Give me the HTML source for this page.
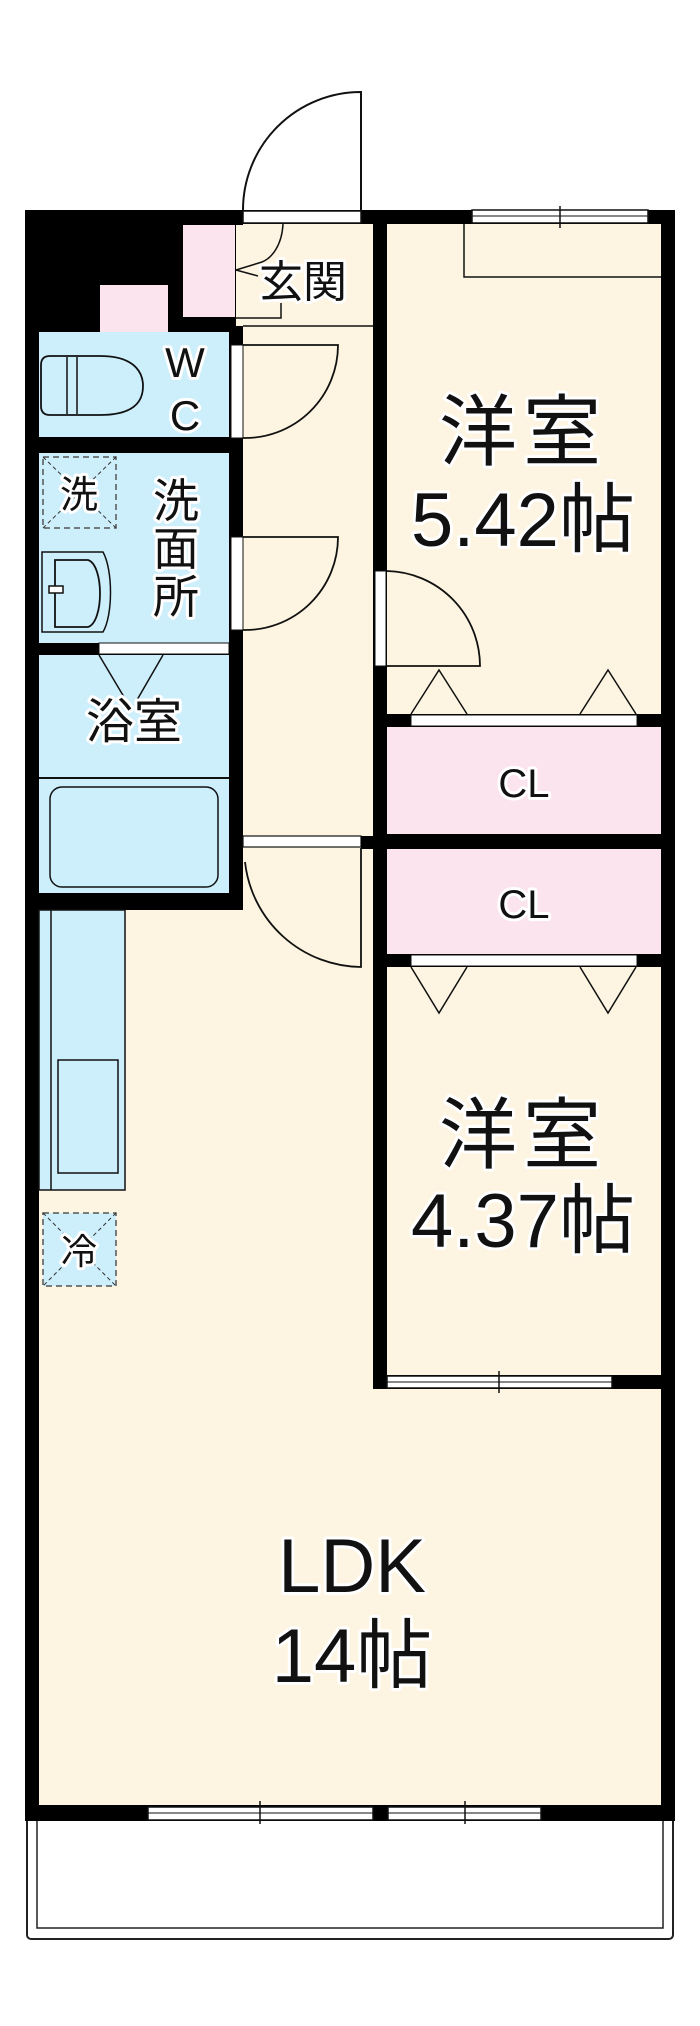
<!DOCTYPE html>
<html><head><meta charset="utf-8"><style>
html,body{margin:0;padding:0;background:#fff;}
svg{display:block;}
text{font-family:"Liberation Sans","Noto Sans CJK JP",sans-serif;fill:#111;paint-order:stroke;stroke:#fff;stroke-width:6px;stroke-linejoin:round;}
</style></head><body>
<svg width="700" height="2026" viewBox="0 0 700 2026" xmlns="http://www.w3.org/2000/svg">
<rect width="700" height="2026" fill="#fff"/>
<!-- balcony -->
<rect x="27" y="1815" width="646" height="124" rx="4" fill="#fff" stroke="#222" stroke-width="2"/>
<rect x="37" y="1815" width="626" height="113" fill="#fff" stroke="#222" stroke-width="1.5"/>
<!-- entrance door outside -->
<path d="M243,210 A118,118 0 0 1 361,92 L361,210" fill="#fff" stroke="#111" stroke-width="2"/>
<!-- floor fills -->
<rect x="25" y="210" width="650" height="1611" fill="#fdf5e1"/>
<!-- black top-left block -->
<rect x="25" y="210" width="218" height="122" fill="#000"/>
<rect x="100" y="285" width="68" height="47" fill="#fbe4ee"/>
<rect x="183" y="225" width="52" height="92" fill="#fbe4ee"/>
<rect x="236" y="225" width="137" height="101" fill="#fdf5e1"/>
<!-- entrance area lines -->
<path d="M283,224 C282,245 272,258 262,262 M236,270 L262,262 M236,270 L258,276 M281,303 L281,318 L236,318" fill="none" stroke="#111" stroke-width="1.5"/>
<line x1="243" y1="326" x2="373" y2="326" stroke="#111" stroke-width="1.5"/>
<!-- top wall -->
<rect x="25" y="210" width="650" height="14" fill="#000"/>
<rect x="243" y="211" width="118" height="12" fill="#fff" stroke="#111" stroke-width="1.5"/>
<!-- left outer wall -->
<rect x="25" y="210" width="14" height="1611" fill="#000"/>
<!-- right outer wall -->
<rect x="661" y="210" width="14" height="1611" fill="#000"/>
<!-- corridor/rooms wall -->
<rect x="373" y="210" width="14" height="1179" fill="#000"/>
<!-- wet area -->
<rect x="39" y="332" width="190" height="105" fill="#cdeefb"/>
<rect x="25" y="437" width="218" height="16" fill="#000"/>
<rect x="39" y="453" width="190" height="190" fill="#cdeefb"/>
<rect x="25" y="643" width="218" height="12" fill="#000"/>
<rect x="99" y="643" width="130" height="11" fill="#fff" stroke="#111" stroke-width="1"/>
<rect x="39" y="655" width="190" height="238" fill="#cdeefb"/>
<line x1="39" y1="778" x2="229" y2="778" stroke="#111" stroke-width="2"/>
<rect x="50" y="787" width="168" height="100" rx="12" fill="#cdeefb" stroke="#111" stroke-width="1.5"/>
<path d="M99,655 L127,702 M163,655 L137,700" stroke="#111" stroke-width="1.5" fill="none"/>
<rect x="25" y="893" width="218" height="17" fill="#000"/>
<rect x="229" y="332" width="14" height="578" fill="#000"/>
<!-- wc/washroom doors -->
<rect x="231" y="345" width="12" height="93" fill="#fff" stroke="#111" stroke-width="1"/>
<path d="M243,345 L338,345 A93,93 0 0 1 243,438" fill="none" stroke="#111" stroke-width="1.8"/>
<rect x="231" y="537" width="12" height="93" fill="#fff" stroke="#111" stroke-width="1"/>
<path d="M243,537 L338,537 A93,93 0 0 1 243,630" fill="none" stroke="#111" stroke-width="1.8"/>
<!-- toilet -->
<path d="M50,356 L100,356 C140,356 143,378 143,386 C143,396 140,415 100,415 L50,415 Q41,415 41,406 L41,365 Q41,356 50,356 Z" fill="#cdeefb" stroke="#111" stroke-width="1.8"/>
<line x1="67" y1="357" x2="67" y2="414" stroke="#111" stroke-width="1.5"/>
<line x1="77" y1="357" x2="77" y2="414" stroke="#111" stroke-width="1.5"/>
<!-- washbasin -->
<path d="M42,552 L103,552 C113,570 113,615 103,632 L42,632 Z" fill="#cdeefb" stroke="#111" stroke-width="1.5"/>
<path d="M55,560 L88,560 C104,565 104,622 88,627 L55,627 Z" fill="none" stroke="#111" stroke-width="1.8"/>
<rect x="49" y="586" width="14" height="7" fill="#fff" stroke="#111" stroke-width="1.5"/>
<!-- washer box -->
<rect x="43" y="457" width="73" height="71" fill="none" stroke="#555" stroke-width="1.5" stroke-dasharray="6,4"/>
<path d="M43,457 L116,528 M116,457 L43,528" stroke="#333" stroke-width="1" stroke-dasharray="4,3"/>
<!-- corridor bottom door -->
<rect x="243" y="836" width="118" height="11" fill="#fff" stroke="#111" stroke-width="1.2"/>
<rect x="361" y="836" width="14" height="13" fill="#000"/>
<path d="M245,862 A118,118 0 0 0 361,967 L361,848" fill="none" stroke="#111" stroke-width="1.8"/>
<!-- kitchen -->
<rect x="39" y="910" width="86" height="280" fill="#cdeefb" stroke="#111" stroke-width="1.5"/>
<line x1="51" y1="910" x2="51" y2="1190" stroke="#111" stroke-width="1.5"/>
<rect x="58" y="1060" width="60" height="113" fill="#cdeefb" stroke="#111" stroke-width="1.5"/>
<rect x="43" y="1213" width="73" height="73" fill="#cdeefb" stroke="#555" stroke-width="1.5" stroke-dasharray="6,4"/>
<path d="M43,1213 L116,1286 M116,1213 L43,1286" stroke="#333" stroke-width="1" stroke-dasharray="4,3"/>
<!-- room 5.42 -->
<rect x="472" y="210" width="176" height="13" fill="#fff" stroke="#111" stroke-width="1.5"/>
<line x1="560" y1="206" x2="560" y2="228" stroke="#111" stroke-width="1.5"/>
<line x1="472" y1="216" x2="648" y2="216" stroke="#111" stroke-width="1"/>
<path d="M464,224 L464,277 L661,277" fill="none" stroke="#111" stroke-width="1.5"/>
<rect x="375" y="571" width="11" height="95" fill="#fff" stroke="#111" stroke-width="1"/>
<path d="M387,571 A95,95 0 0 1 480,666 L387,666" fill="none" stroke="#111" stroke-width="1.8"/>
<path d="M411,714 L439,670 L467,714 M580,714 L608,670 L636,714" fill="none" stroke="#111" stroke-width="1.5"/>
<!-- closets -->
<rect x="387" y="714" width="274" height="13" fill="#000"/>
<rect x="411" y="715" width="226" height="11" fill="#fff" stroke="#111" stroke-width="1"/>
<rect x="387" y="727" width="274" height="107" fill="#fbe4ee"/>
<rect x="373" y="834" width="302" height="15" fill="#000"/>
<rect x="387" y="849" width="274" height="105" fill="#fbe4ee"/>
<rect x="387" y="954" width="274" height="13" fill="#000"/>
<rect x="411" y="955" width="226" height="11" fill="#fff" stroke="#111" stroke-width="1"/>
<path d="M411,967 L439,1013 L467,967 M580,967 L608,1013 L636,967" fill="none" stroke="#111" stroke-width="1.5"/>
<!-- room 4.37 bottom wall -->
<rect x="373" y="1375" width="302" height="14" fill="#000"/>
<rect x="387" y="1376" width="225" height="12" fill="#fff" stroke="#111" stroke-width="1.5"/>
<line x1="387" y1="1382" x2="612" y2="1382" stroke="#111" stroke-width="1"/>
<line x1="499" y1="1371" x2="499" y2="1393" stroke="#111" stroke-width="1.5"/>
<!-- LDK bottom wall -->
<rect x="25" y="1805" width="650" height="16" fill="#000"/>
<rect x="148" y="1807" width="225" height="13" fill="#fff" stroke="#111" stroke-width="1.5"/>
<line x1="148" y1="1813" x2="373" y2="1813" stroke="#111" stroke-width="1"/>
<line x1="260" y1="1801" x2="260" y2="1824" stroke="#111" stroke-width="1.5"/>
<rect x="388" y="1807" width="153" height="13" fill="#fff" stroke="#111" stroke-width="1.5"/>
<line x1="388" y1="1813" x2="541" y2="1813" stroke="#111" stroke-width="1"/>
<line x1="465" y1="1801" x2="465" y2="1824" stroke="#111" stroke-width="1.5"/>
<!-- labels -->
<text x="303" y="297" font-size="44" text-anchor="middle">玄関</text>
<text x="185" y="377" font-size="42" text-anchor="middle">W</text>
<text x="185" y="430" font-size="42" text-anchor="middle">C</text>
<text x="79" y="508" font-size="38" text-anchor="middle">洗</text>
<text x="176" y="517" font-size="46" text-anchor="middle">洗</text>
<text x="176" y="565" font-size="46" text-anchor="middle">面</text>
<text x="176" y="613" font-size="46" text-anchor="middle">所</text>
<text x="134" y="738" font-size="48" text-anchor="middle">浴室</text>
<text x="79" y="1264" font-size="36" text-anchor="middle">冷</text>
<text x="523" y="459" font-size="78" text-anchor="middle" letter-spacing="6">洋室</text>
<text x="523" y="546" font-size="76" text-anchor="middle">5.42帖</text>
<text x="524" y="797" font-size="40" text-anchor="middle">CL</text>
<text x="524" y="918" font-size="40" text-anchor="middle">CL</text>
<text x="523" y="1162" font-size="78" text-anchor="middle" letter-spacing="6">洋室</text>
<text x="523" y="1247" font-size="76" text-anchor="middle">4.37帖</text>
<text x="352" y="1592" font-size="76" text-anchor="middle">LDK</text>
<text x="352" y="1682" font-size="76" text-anchor="middle">14帖</text>
</svg>
</body></html>
